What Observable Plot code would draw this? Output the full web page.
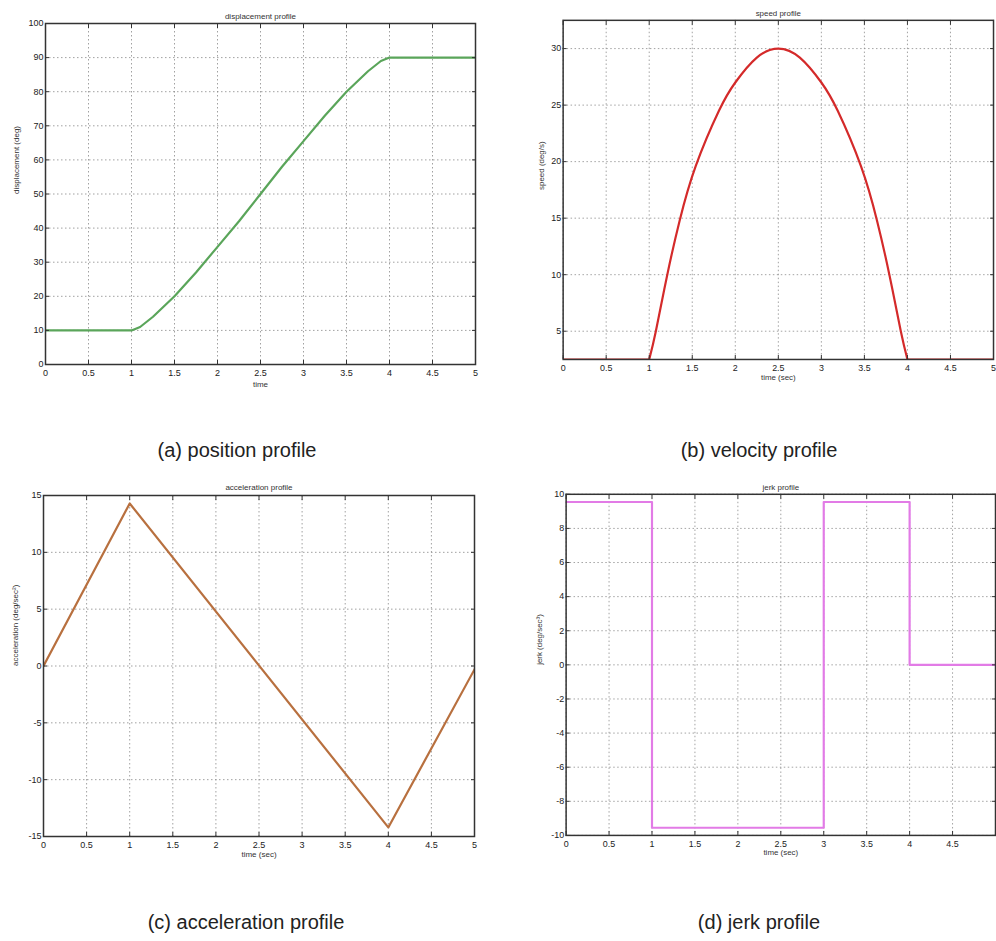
<!DOCTYPE html>
<html><head><meta charset="utf-8">
<script src="https://cdn.jsdelivr.net/npm/d3@7"></script>
<script src="https://cdn.jsdelivr.net/npm/@observablehq/plot@0.6"></script>
<style>
html,body{margin:0;padding:0;background:#fff;overflow:hidden;width:996px;height:941px;}
#wrap{position:relative;width:996px;height:941px;overflow:hidden;background:#fff;}
.panel{position:absolute;}
.cap{position:absolute;font-family:"Liberation Sans",Arial,sans-serif;font-size:20px;color:#222;transform:translate(-50%,-50%);white-space:nowrap;}
</style></head><body><div id="wrap"></div>
<script>
// ---- data ----
const timeTicks = [0, 0.5, 1, 1.5, 2, 2.5, 3, 3.5, 4, 4.5, 5];

const posTime  = [0, 0.5, 1, 1.1, 1.25, 1.5, 1.75, 2, 2.25, 2.5, 2.75, 3, 3.25, 3.5, 3.75, 3.9, 4, 4.5, 5];
const posValue = [10, 10, 10, 11, 14, 20, 27, 34.5, 42, 50, 58, 65.5, 73, 80, 86, 89, 90, 90, 90];
const posTicks = [0, 10, 20, 30, 40, 50, 60, 70, 80, 90, 100];

const speedTime  = [0, 0.5, 1, 1.077, 1.21, 1.354, 1.54, 1.81, 2, 2.25, 2.5, 2.75, 3, 3.19, 3.46, 3.646, 3.79, 3.923, 4, 4.5, 5];
const speedValue = [2.5, 2.5, 2.5, 5, 10, 14.8, 19.6, 24.5, 27, 29.2, 30, 29.2, 27, 24.5, 19.6, 14.8, 10, 5, 2.5, 2.5, 2.5];
const speedTicks = [5, 10, 15, 20, 25, 30];
// phases of the motion (rest / moving / rest)
const speedPhaseStart = 1;
const speedPhaseEnd = 4;

const accTime  = [0, 1, 4, 5];
const accValue = [0, 14.3, -14.2, -0.3];
const accTicks = [-15, -10, -5, 0, 5, 10, 15];

const jerkTime  = [0, 1, 3, 4, 5];
const jerkValue = [9.55, -9.55, 9.55, 0, 0];
const jerkTicks = [-10, -8, -6, -4, -2, 0, 2, 4, 6, 8, 10];

const panels = [
  {title: "displacement profile", xLabel: "time", yLabel: "displacement (deg)", t: posTime, v: posValue,
   yDomain: [0, 100], yTicks: posTicks, color: "#5aa55a", curve: "linear", showLast: true,
   left: 0, top: 0, w: 480, h: 400, ml: 45, mr: 5, mt: 23, mb: 36, ylx: -29, xly: 22, tly: -10},
  {title: "speed profile", xLabel: "time (sec)", yLabel: "speed (deg/s)", t: speedTime, v: speedValue,
   yDomain: [2.5, 32.5], yTicks: speedTicks, color: "#d42a2a", curve: "natural", showLast: true,
   phases: [speedPhaseStart, speedPhaseEnd],
   left: 520, top: 0, w: 480, h: 400, ml: 43, mr: 3, mt: 20, mb: 38, ylx: -22, xly: 21, tly: -10},
  {title: "acceleration profile", xLabel: "time (sec)", yLabel: "acceleration (deg/sec\u00b2)", t: accTime, v: accValue,
   yDomain: [-15, 15], yTicks: accTicks, color: "#b8703f", curve: "linear", showLast: true,
   left: 0, top: 470, w: 480, h: 400, ml: 43, mr: 6, mt: 25, mb: 34, ylx: -28, xly: 20, tly: -11},
  {title: "jerk profile", xLabel: "time (sec)", yLabel: "jerk (deg/sec\u00b3)", t: jerkTime, v: jerkValue,
   yDomain: [-10, 10], yTicks: jerkTicks, color: "#e27be6", curve: "step-after", showLast: false,
   left: 520, top: 470, w: 480, h: 400, ml: 46, mr: 1, mt: 24, mb: 32, ylx: -27, xly: 20, tly: -10}
];

const captions = [
  {text: "(a) position profile", x: 237, y: 450},
  {text: "(b) velocity profile", x: 759, y: 450},
  {text: "(c) acceleration profile", x: 246, y: 922},
  {text: "(d) jerk profile", x: 759, y: 922}
];

const wrap = document.getElementById("wrap");
const fmt = d => String(d);

for (const o of panels) {
  const rows = o.t.map((t, i) => ({t, v: o.v[i]}));
  const grid = {stroke: "#8a8a8a", strokeOpacity: 0.8, strokeDasharray: "1.5,2.5"};
  const xfmt = o.showLast ? fmt : (d => d === 5 ? "" : String(d));
  let lineMarks;
  if (o.phases) {
    const [a, b] = o.phases;
    const rest = rows.filter(d => d.t <= a || d.t >= b).map(d => ({...d, seg: d.t <= a ? "pre" : "post"}));
    const move = rows.filter(d => d.t >= a && d.t <= b);
    lineMarks = [
      Plot.line(rest, {x: "t", y: "v", z: "seg", stroke: o.color, strokeWidth: 2.2, clip: true}),
      Plot.line(move, {x: "t", y: "v", stroke: o.color, strokeWidth: 2.2, curve: o.curve, clip: true})
    ];
  } else {
    lineMarks = [Plot.line(rows, {x: "t", y: "v", stroke: o.color, strokeWidth: 2.2, curve: o.curve, clip: true})];
  }
  const svg = Plot.plot({
    width: o.w, height: o.h,
    marginLeft: o.ml, marginRight: o.mr, marginTop: o.mt, marginBottom: o.mb,
    style: {fontFamily: "'Liberation Sans', Arial, sans-serif", fontSize: "9px", color: "#222", background: "transparent", overflow: "visible"},
    x: {domain: [0, 5], ticks: timeTicks, tickFormat: fmt, label: null},
    y: {domain: o.yDomain, ticks: o.yTicks, tickFormat: fmt, label: null},
    marks: [
      Plot.gridX(timeTicks, grid),
      Plot.gridY(o.yTicks, grid),
      ...lineMarks,
      Plot.frame({stroke: "#333", strokeWidth: 1.5}),
      Plot.axisX(timeTicks, {anchor: "bottom", tickSize: -4, tickPadding: 9, tickFormat: xfmt, label: null, stroke: "#333"}),
      Plot.axisX(timeTicks, {anchor: "top", tickSize: -4, tickFormat: () => "", label: null, stroke: "#333"}),
      Plot.axisY(o.yTicks, {anchor: "left", tickSize: -4, tickPadding: 6, tickFormat: fmt, label: null, stroke: "#333"}),
      Plot.axisY(o.yTicks, {anchor: "right", tickSize: -4, tickFormat: () => "", label: null, stroke: "#333"}),
      Plot.text([o.title], {text: d => d, frameAnchor: "top", dy: o.tly, fontSize: 8, fill: "#333"}),
      Plot.text([o.xLabel], {text: d => d, frameAnchor: "bottom", dy: o.xly, fontSize: 8, fill: "#333"}),
      Plot.text([o.yLabel], {text: d => d, frameAnchor: "left", dx: o.ylx, rotate: -90, fontSize: 8, fill: "#333"})
    ]
  });
  const div = document.createElement("div");
  div.className = "panel";
  div.style.left = o.left + "px";
  div.style.top = o.top + "px";
  div.appendChild(svg);
  wrap.appendChild(div);
}

for (const c of captions) {
  const d = document.createElement("div");
  d.className = "cap";
  d.style.left = c.x + "px";
  d.style.top = c.y + "px";
  d.textContent = c.text;
  wrap.appendChild(d);
}
</script>
</body></html>
